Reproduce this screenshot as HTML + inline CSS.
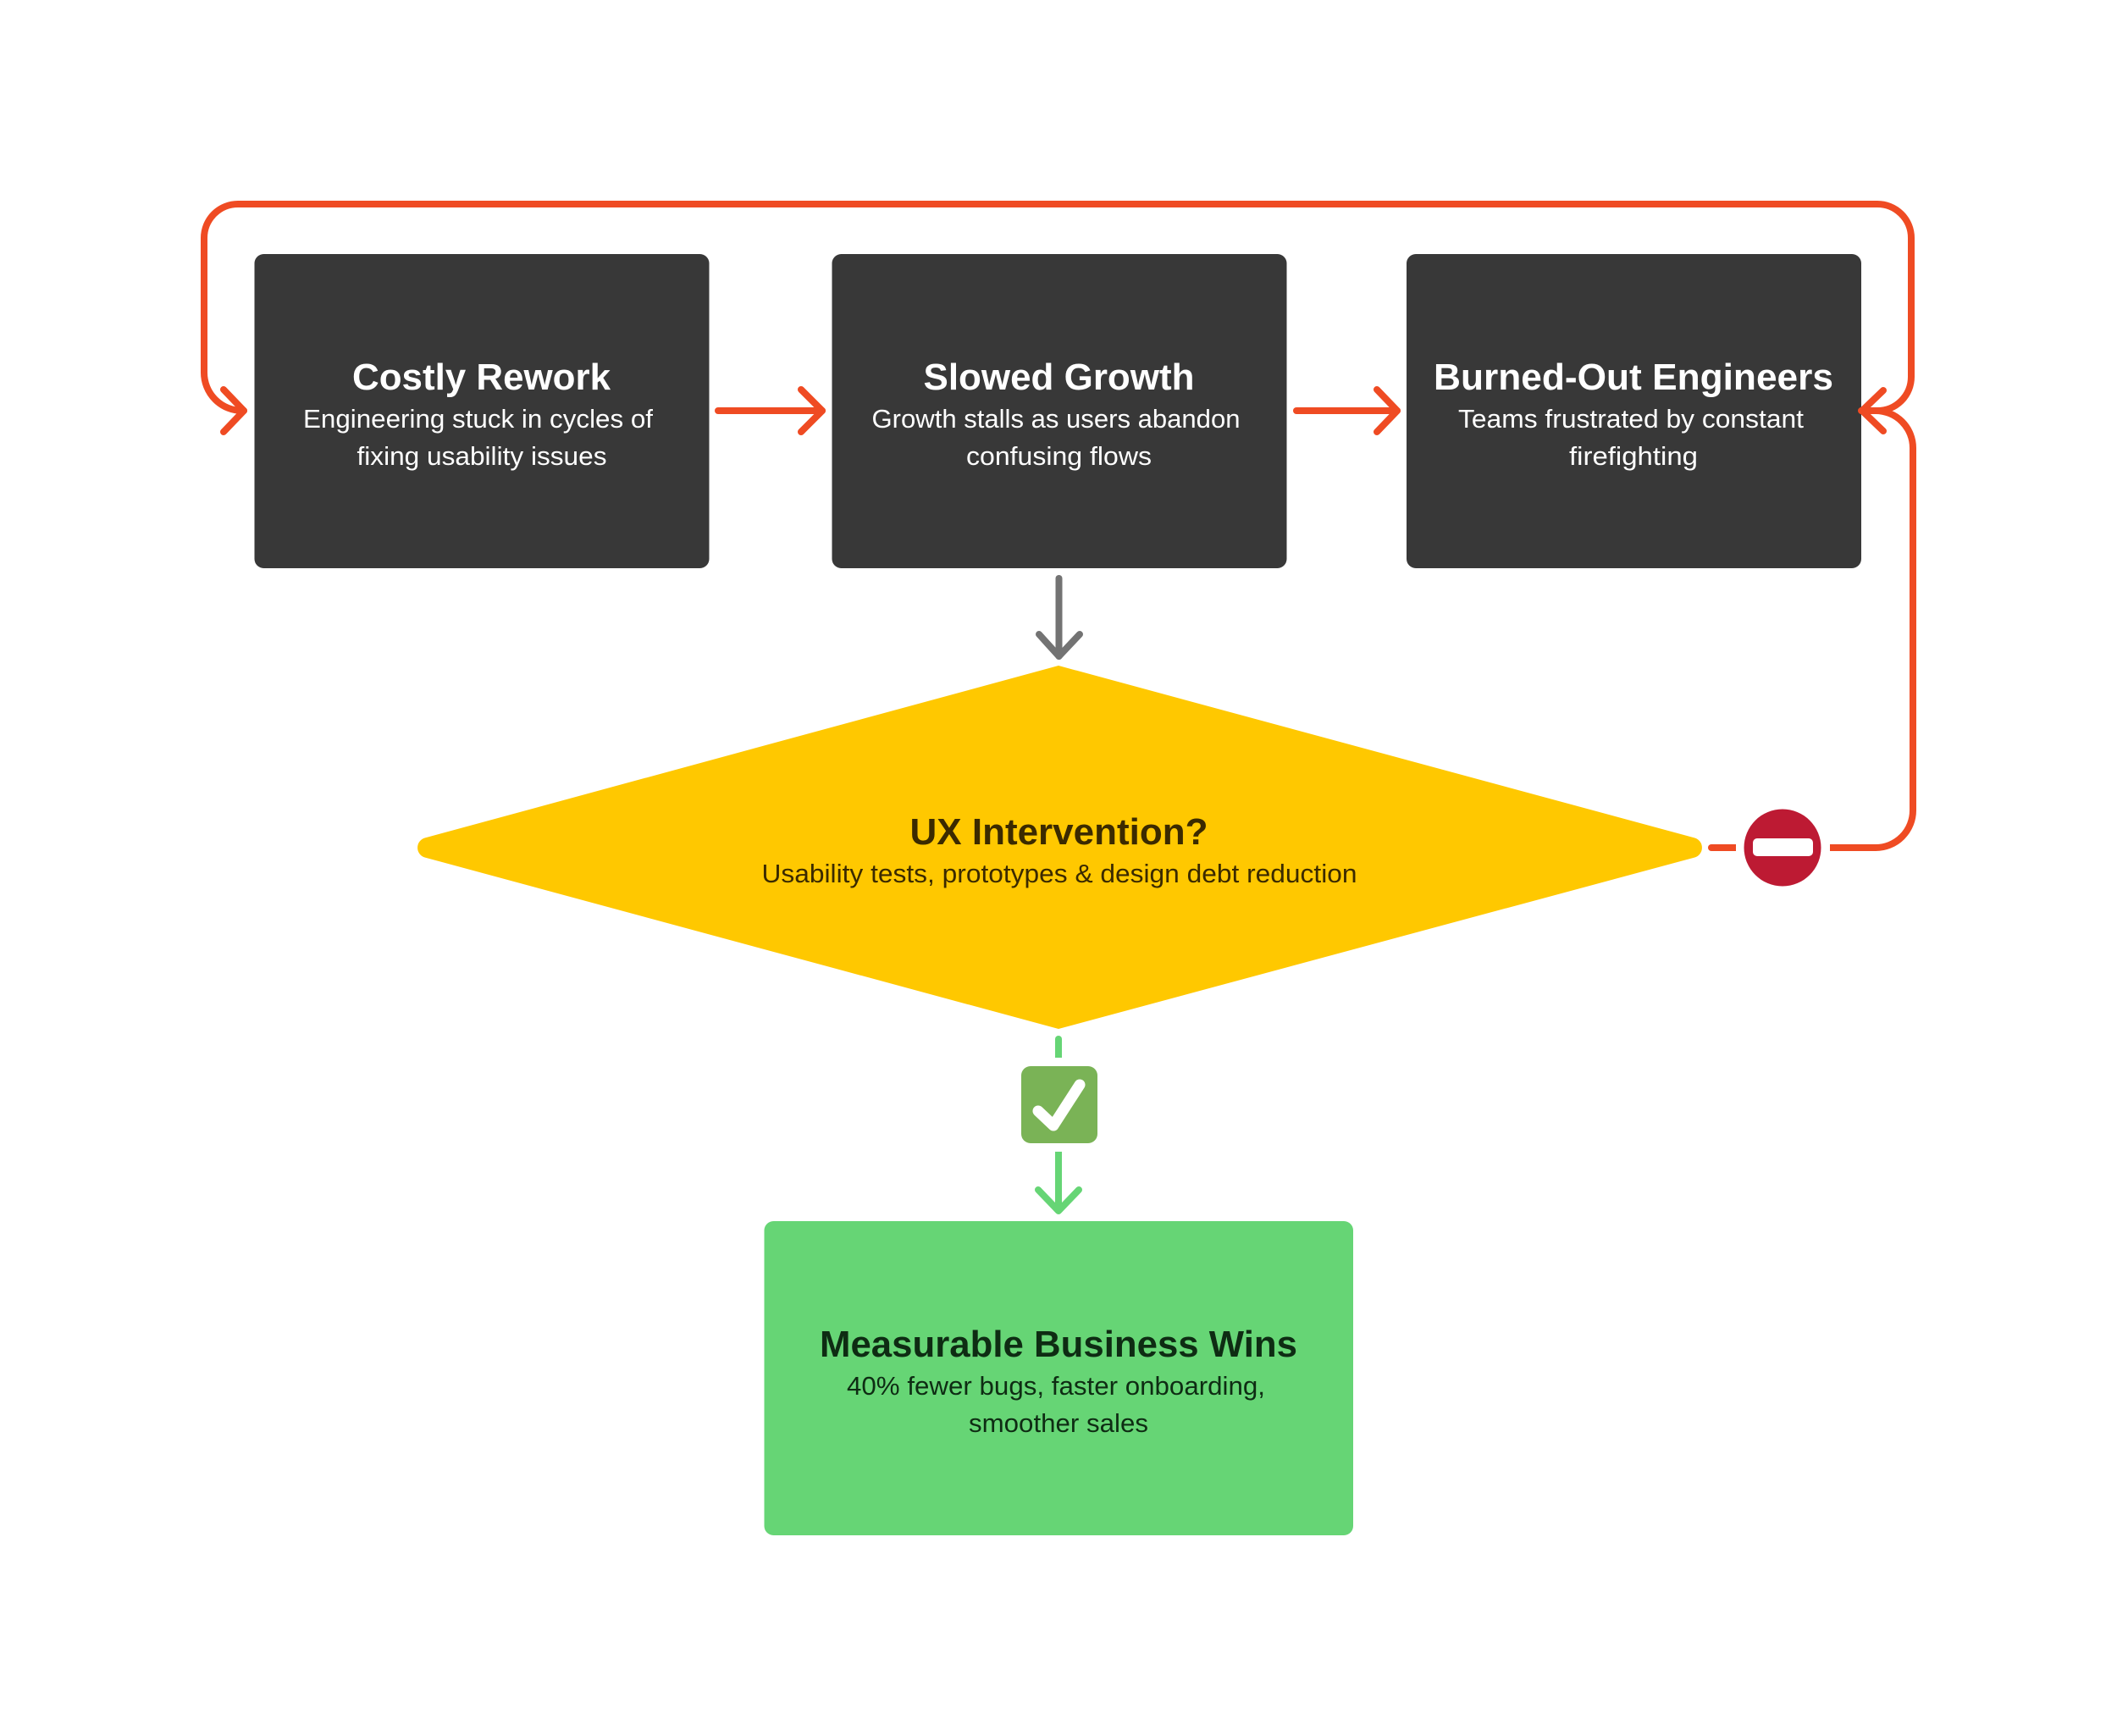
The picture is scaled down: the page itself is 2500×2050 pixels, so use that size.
<!DOCTYPE html>
<html>
<head>
<meta charset="utf-8">
<style>
html,body{margin:0;padding:0;background:#fff;width:2500px;height:2050px;overflow:hidden}
svg{display:block}
text{font-family:"Liberation Sans",sans-serif;text-anchor:middle}
.t{font-size:44px;font-weight:700}
.s{font-size:31px;font-weight:400}
.w{fill:#fff}
.y{fill:#3b2a00}
.g{fill:#0e2c13}
</style>
</head>
<body>
<svg width="2500" height="2050" viewBox="0 0 2500 2050" xmlns="http://www.w3.org/2000/svg">
<rect width="2500" height="2050" fill="#fff"/>

<!-- Boxes -->
<rect x="300.5" y="300" width="537" height="371" rx="11" fill="#383838"/>
<rect x="982.5" y="300" width="537" height="371" rx="11" fill="#383838"/>
<rect x="1661" y="300" width="537" height="371" rx="11" fill="#383838"/>
<rect x="902.5" y="1442" width="695.5" height="371" rx="11" fill="#66d575"/>

<!-- Diamond -->
<path d="M1250 786 L2001 989.4 A12 12 0 0 1 2001 1012.6 L1250 1215 L502 1012.6 A12 12 0 0 1 502 989.4 Z" fill="#ffc800"/>

<!-- Orange connectors -->
<g fill="none" stroke="#ef4b23" stroke-width="8" stroke-linecap="round" stroke-linejoin="round">
<path d="M288 485 H286 A45 45 0 0 1 241 440 V281 A40 40 0 0 1 281 241 H2217 A40 40 0 0 1 2257 281 V445 A40 40 0 0 1 2217 485 H2198"/>
<path d="M264 460 L288 485 L264 510"/>
<path d="M848 485 H971"/>
<path d="M946 460 L971 485 L946 510"/>
<path d="M1531 485 H1650"/>
<path d="M1626 460 L1650 485 L1626 510"/>
<path d="M2224 461 L2199 485 L2224 509"/>
<path d="M2199 485 H2215 A44 44 0 0 1 2259 529 V957 A44 44 0 0 1 2215 1001"/>
</g>
<path d="M2215 1001 H2161" fill="none" stroke="#ef4b23" stroke-width="8"/>
<path d="M2050 1001 H2021" fill="none" stroke="#ef4b23" stroke-width="8"/>
<circle cx="2021" cy="1001" r="4" fill="#ef4b23"/>

<!-- No-entry badge -->
<circle cx="2105" cy="1001" r="45.5" fill="#bd1a33"/>
<rect x="2070" y="990" width="71" height="21" rx="5" fill="#fff"/>

<!-- Gray arrow -->
<g fill="none" stroke="#737373" stroke-width="8" stroke-linecap="round" stroke-linejoin="round">
<path d="M1250.5 683 V775"/>
<path d="M1227 749 L1250.5 775 L1275 749"/>
</g>

<!-- Green connectors -->
<path d="M1250 1249 V1227" fill="none" stroke="#66d575" stroke-width="8"/>
<circle cx="1250" cy="1227" r="4" fill="#66d575"/>
<path d="M1250 1360 V1430" fill="none" stroke="#66d575" stroke-width="8"/>
<path d="M1226 1405 L1250 1430 L1274 1405" fill="none" stroke="#66d575" stroke-width="8" stroke-linecap="round" stroke-linejoin="round"/>

<!-- Check badge -->
<rect x="1206" y="1259" width="90" height="91" rx="11" fill="#7ab356"/>
<path d="M1226 1312 L1244 1329 L1275 1281" fill="none" stroke="#fff" stroke-width="13" stroke-linecap="round" stroke-linejoin="round"/>

<!-- Text -->
<text class="t w" x="568.5" y="460" textLength="305" lengthAdjust="spacingAndGlyphs">Costly Rework</text>
<text class="s w" x="564.5" y="505" textLength="413" lengthAdjust="spacingAndGlyphs">Engineering stuck in cycles of</text>
<text class="s w" x="569" y="549" textLength="295" lengthAdjust="spacingAndGlyphs">fixing usability issues</text>

<text class="t w" x="1250.5" y="460" textLength="320" lengthAdjust="spacingAndGlyphs">Slowed Growth</text>
<text class="s w" x="1247" y="505" textLength="435" lengthAdjust="spacingAndGlyphs">Growth stalls as users abandon</text>
<text class="s w" x="1250.5" y="549" textLength="219" lengthAdjust="spacingAndGlyphs">confusing flows</text>

<text class="t w" x="1929" y="460" textLength="472" lengthAdjust="spacingAndGlyphs">Burned-Out Engineers</text>
<text class="s w" x="1926" y="505" textLength="408" lengthAdjust="spacingAndGlyphs">Teams frustrated by constant</text>
<text class="s w" x="1929" y="549" textLength="152" lengthAdjust="spacingAndGlyphs">firefighting</text>

<text class="t y" x="1250.5" y="997" textLength="352" lengthAdjust="spacingAndGlyphs">UX Intervention?</text>
<text class="s y" x="1251" y="1042" textLength="703" lengthAdjust="spacingAndGlyphs">Usability tests, prototypes &amp; design debt reduction</text>

<text class="t g" x="1250" y="1602" textLength="564" lengthAdjust="spacingAndGlyphs">Measurable Business Wins</text>
<text class="s g" x="1247" y="1647" textLength="494" lengthAdjust="spacingAndGlyphs">40% fewer bugs, faster onboarding,</text>
<text class="s g" x="1250" y="1691" textLength="212" lengthAdjust="spacingAndGlyphs">smoother sales</text>
</svg>
</body>
</html>
